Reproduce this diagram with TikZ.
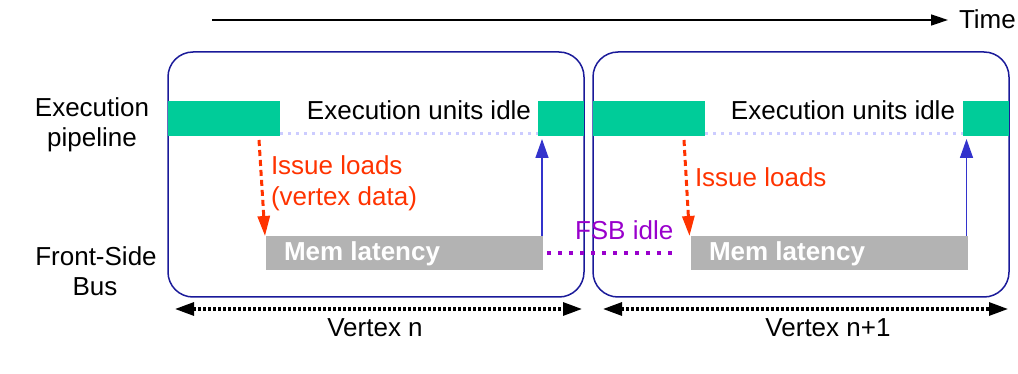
\documentclass[tikz,border=0pt]{standalone}
\usepackage{fontspec}
\setmainfont{Liberation Sans}
\usetikzlibrary{arrows.meta}
\definecolor{execgreen}{RGB}{0,204,153}
\definecolor{memgray}{RGB}{179,179,179}
\definecolor{loadred}{RGB}{255,51,0}
\definecolor{boxblue}{RGB}{26,26,153}
\definecolor{arrblue}{RGB}{51,51,204}
\definecolor{fsbpurple}{RGB}{153,0,204}
\definecolor{idlelav}{RGB}{204,204,255}
\begin{document}
\begin{tikzpicture}[x=1pt,y=-1pt,
  every node/.style={font=\fontsize{26}{31}\selectfont, inner sep=0pt, outer sep=0pt},
  phase/.style={draw=boxblue, line width=1.5pt, rounded corners=25pt, minimum width=416pt, minimum height=245pt},
  gbar/.style={fill=execgreen, minimum height=35pt},
  mbar/.style={fill=memgray, minimum height=34pt, minimum width=277pt},
  memtext/.style={text=white, font=\fontsize{26}{31}\selectfont\bfseries, anchor=base west},
  idleline/.style={draw=idlelav, line width=3pt, dash pattern=on 3pt off 5pt},
  loadarrow/.style={draw=loadred, line width=3pt, dash pattern=on 6pt off 4pt, -{Triangle[length=20pt,width=12pt]}},
  retarrow/.style={draw=arrblue, line width=1.5pt, -{Triangle[length=19pt,width=13pt]}},
  fsbline/.style={draw=fsbpurple, line width=4pt, dash pattern=on 4pt off 7pt},
  spanarrow/.style={line width=3pt, dash pattern=on 3pt off 2pt, {Triangle[length=19pt,width=13pt]}-{Triangle[length=19pt,width=13pt]}},
  labeltext/.style={anchor=base, align=center}
]
\useasboundingbox (0,0) rectangle (1018,374);

% time axis
\coordinate (t0) at (212,20);
\node[anchor=base west] (time) at (959,29) {Time};
\draw[line width=1.5pt, -{Triangle[length=17pt,width=11pt]}, shorten >=11pt] (t0) -- (t0 -| time.west);

% row labels
\node[labeltext] (exec1) at (92,117) {Execution};
\node[labeltext] (exec2) at (92,147) {pipeline};
\node[labeltext] (fsb1) at (96,266) {Front-Side};
\node[labeltext] (fsb2) at (95,296) {Bus};

% phase boxes
\node[phase] (box1) at (376,174.5) {};
\node[phase] (box2) at (801,174.5) {};

% execution bars
\node[gbar, minimum width=112pt] (b1a) at (224,118.5) {};
\node[gbar, minimum width=46pt] (b1b) at (561,118.5) {};
\node[gbar, minimum width=112pt] (b2a) at (649,118.5) {};
\node[gbar, minimum width=46pt] (b2b) at (986,118.5) {};

\node[anchor=base] (idle1) at (419,120) {Execution units idle};
\node[anchor=base] (idle2) at (843,120) {Execution units idle};

\draw[idleline] ([yshift=2pt]b1a.south east) -- ([yshift=2pt]b1b.south west);
\draw[idleline] ([yshift=2pt]b2a.south east) -- ([yshift=2pt]b2b.south west);

% memory bars
\node[mbar] (m1) at (404.5,253) {};
\node[mbar] (m2) at (829,253) {};
\node[memtext] (mt1) at (284,261) {Mem latency};
\node[memtext] (mt2) at (709,261) {Mem latency};

% load arrows
\coordinate (l1) at (259,140);
\coordinate (l2) at (684,140);
\draw[loadarrow] (l1) -- ([xshift=-1pt]m1.north west);
\draw[loadarrow] (l2) -- ([xshift=-1pt]m2.north west);
\node[anchor=base west, text=loadred, align=left] (iss1) at (271,175) {Issue loads};
\node[anchor=base west, text=loadred] (vd1) at (271,206) {(vertex data)};
\node[anchor=base west, text=loadred] (iss2) at (695,187) {Issue loads};

% return arrows
\draw[retarrow, shorten >=3pt] ([xshift=-1pt]m1.north east) -- ([xshift=-1pt]m1.north east |- b1b.south);
\draw[retarrow, shorten >=3pt] ([xshift=-1pt]m2.north east) -- ([xshift=-1pt]m2.north east |- b2b.south);

% FSB idle
\draw[fsbline, shorten <=4pt, shorten >=13pt] (m1.east) -- (m2.west);
\node[anchor=base west, text=fsbpurple] (fsbidle) at (575,240) {FSB idle};

% spans
\draw[spanarrow, shorten <=7pt, shorten >=2pt] ([yshift=-12pt]box1.south west) -- ([yshift=-12pt]box1.south east);
\draw[spanarrow, shorten <=10pt, shorten >=1pt] ([yshift=-12pt]box2.south west) -- ([yshift=-12pt]box2.south east);
\node[anchor=base] (vn) at (375,336) {Vertex n};
\node[anchor=base] (vn1) at (828,336) {Vertex n+1};
\end{tikzpicture}
\end{document}
